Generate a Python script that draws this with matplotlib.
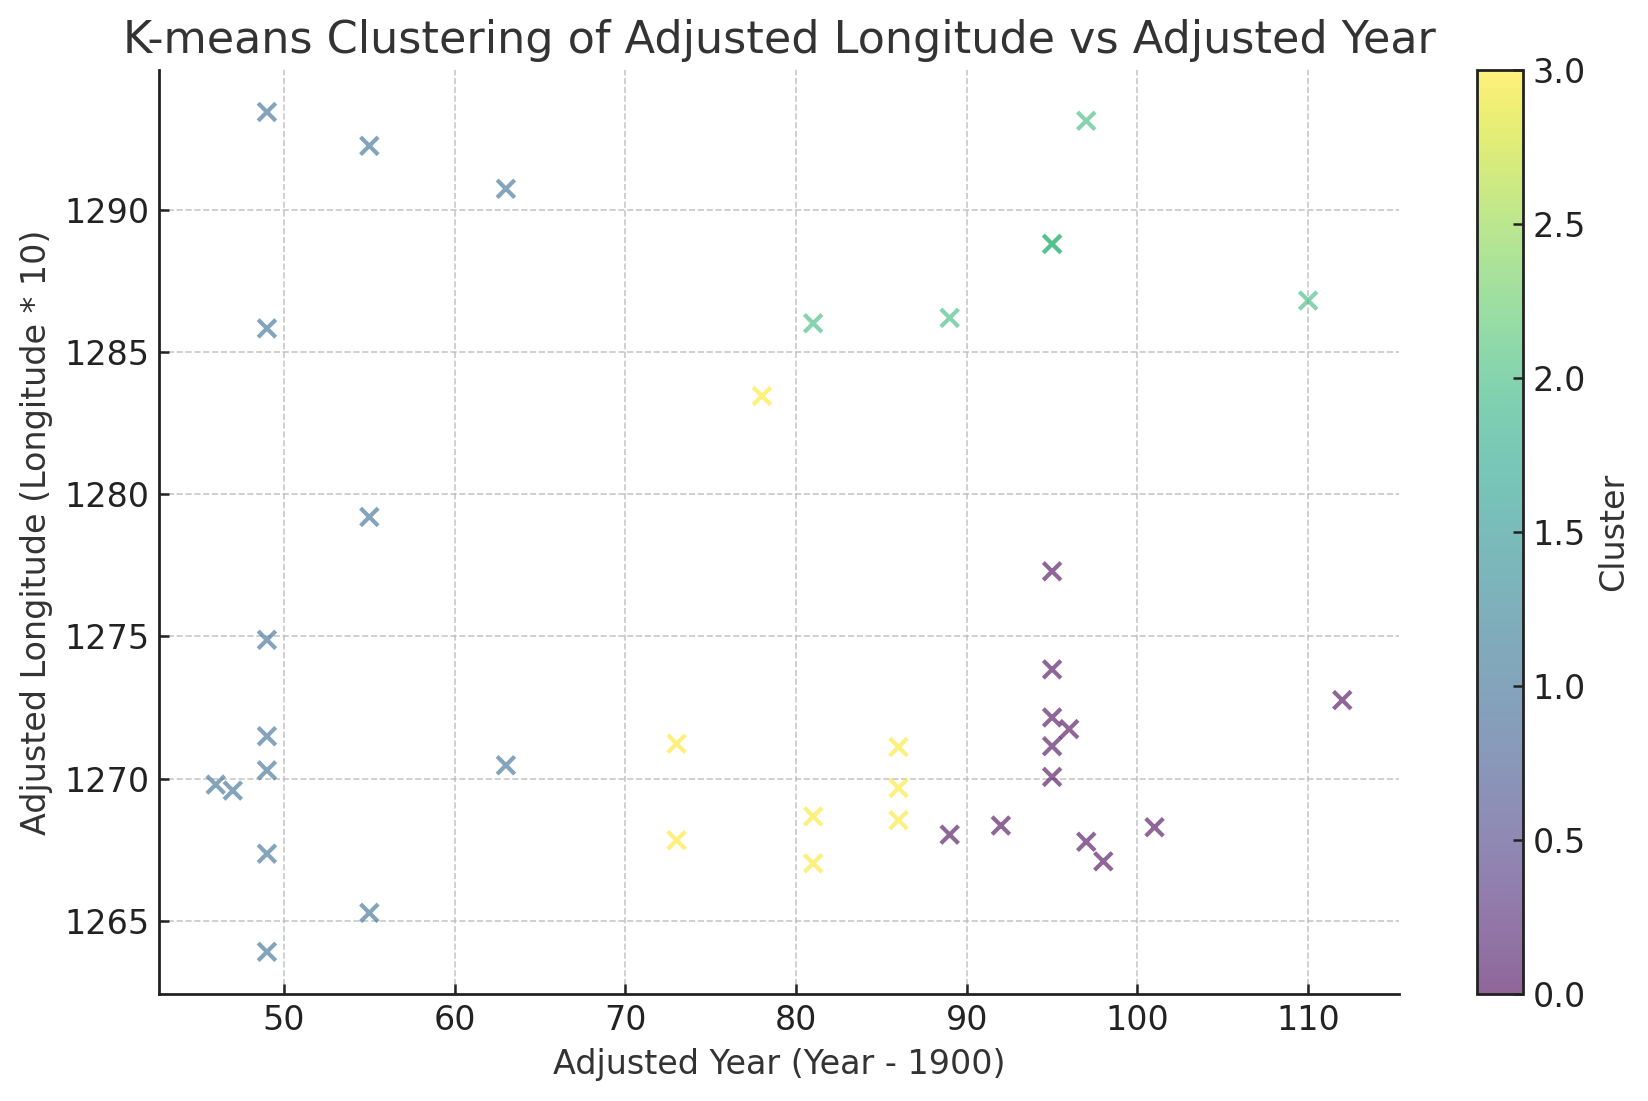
import matplotlib
matplotlib.use("Agg")
import matplotlib.pyplot as plt
import numpy as np

plt.rcParams['font.family'] = ['DejaVu Sans']

# Adjusted year (Year - 1900)
years = [49, 55, 63, 49, 55, 49, 49, 49, 46, 47, 63, 49, 55, 49,
         97, 95, 95, 81, 89, 110,
         78, 73, 73, 81, 81, 86, 86, 86,
         95, 95, 95, 96, 95, 95, 92, 89, 97, 98, 101, 112]
# Adjusted longitude (Longitude * 10)
longitudes = [1293.44, 1292.25, 1290.74, 1285.83, 1279.20, 1274.88, 1271.49, 1270.29,
              1269.79, 1269.58, 1270.47, 1267.36, 1265.28, 1263.91,
              1293.13, 1288.80, 1288.80, 1286.01, 1286.20, 1286.81,
              1283.45, 1271.23, 1267.83, 1268.67, 1267.02, 1271.11, 1269.67, 1268.54,
              1277.29, 1273.84, 1272.15, 1271.74, 1271.14, 1270.06, 1268.35, 1268.03,
              1267.78, 1267.09, 1268.29, 1272.76]
# K-means cluster labels
clusters = [1] * 14 + [2] * 6 + [3] * 8 + [0] * 12

W, H, DPI = 1649, 1101, 200
fig = plt.figure(figsize=(W / DPI, H / DPI), dpi=DPI)
ax = fig.add_axes([159.4 / W, (H - 993.8) / H, 1239.2 / W, 923.8 / H])
cax = fig.add_axes([1477 / W, (H - 993.8) / H, 46 / W, 923.8 / H])

text_color = '#333333'
sc = ax.scatter(years, longitudes, c=clusters, cmap='viridis', marker='x',
                alpha=0.6, s=40, linewidths=1.5)

ax.set_title('K-means Clustering of Adjusted Longitude vs Adjusted Year',
             fontsize=16, color=text_color)
ax.set_xlabel('Adjusted Year (Year - 1900)', fontsize=12, color=text_color)
ax.set_ylabel('Adjusted Longitude (Longitude * 10)', fontsize=12, color=text_color)

ax.grid(True, linestyle='--', color='#bbbbbb', linewidth=0.6, alpha=0.8)
ax.set_axisbelow(True)
for side in ['top', 'right']:
    ax.spines[side].set_visible(False)
for side in ['left', 'bottom']:
    ax.spines[side].set_color('#222222')
    ax.spines[side].set_linewidth(1.0)
ax.tick_params(direction='in', length=3.5, width=0.9, labelsize=12,
               colors='#222222')

cb = fig.colorbar(sc, cax=cax)
cb.set_label('Cluster', fontsize=12, color=text_color)
cb.ax.tick_params(direction='in', length=3.5, width=0.9, labelsize=12,
                  colors='#222222')
cb.outline.set_edgecolor('#222222')
cb.outline.set_linewidth(1.0)

fig.savefig('out.png', dpi=DPI)
